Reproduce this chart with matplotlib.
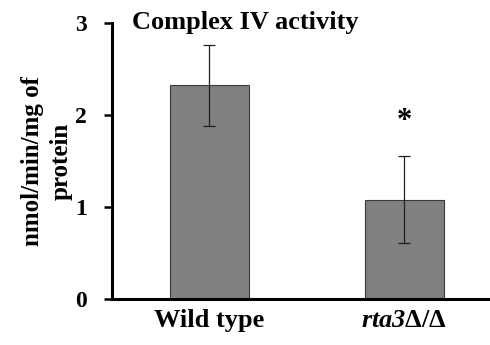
import matplotlib.pyplot as plt

plt.rcParams['font.family'] = 'Liberation Serif'
plt.rcParams['font.weight'] = 'bold'
plt.rcParams['mathtext.fontset'] = 'custom'
plt.rcParams['mathtext.bf'] = 'Liberation Serif:italic:bold'

strains = ['Wild type', r'$\mathbf{rta3}$Δ/Δ']
activity = [2.32, 1.08]
sd = [0.44, 0.47]
yticks = [0, 1, 2, 3]

fig = plt.figure(figsize=(4.9, 3.45), dpi=100)
ax = fig.add_axes([0.229, 0.133, 0.771, 0.801])

x = [0, 1]
ax.bar(x, activity, width=0.405, color='#808080', edgecolor='#3a3a3a', linewidth=0.8,
       yerr=sd, capsize=4.3, error_kw={'elinewidth': 0.9, 'capthick': 0.9, 'ecolor': '#202020'})

ax.set_xlim(-0.497, 1.44)
ax.set_ylim(0, 3)
ax.set_yticks(yticks)
ax.set_yticklabels([str(t) for t in yticks], fontsize=17, fontweight='bold')
ax.set_xticks([])
for xi, name in zip(x, strains):
    ax.text(xi, -0.23, name, fontsize=19, fontweight='bold', ha='center', va='center')
ax.tick_params(axis='y', length=6, width=1.8, pad=12)

for s in ['top', 'right']:
    ax.spines[s].set_visible(False)
for s in ['left', 'bottom']:
    ax.spines[s].set_linewidth(2.2)

ax.set_ylabel('nmol/min/mg of\nprotein', fontsize=18, fontweight='bold', linespacing=1.3)
ax.yaxis.set_label_coords(-0.105, 0.5)

ax.text(0.053, 1.0, 'Complex IV activity', fontsize=19, fontweight='bold',
        transform=ax.transAxes, ha='left', va='center')
ax.text(1, activity[1] + sd[1] + 0.38, '*', fontsize=22, ha='center', va='center')

fig.savefig('out.png', dpi=100)
